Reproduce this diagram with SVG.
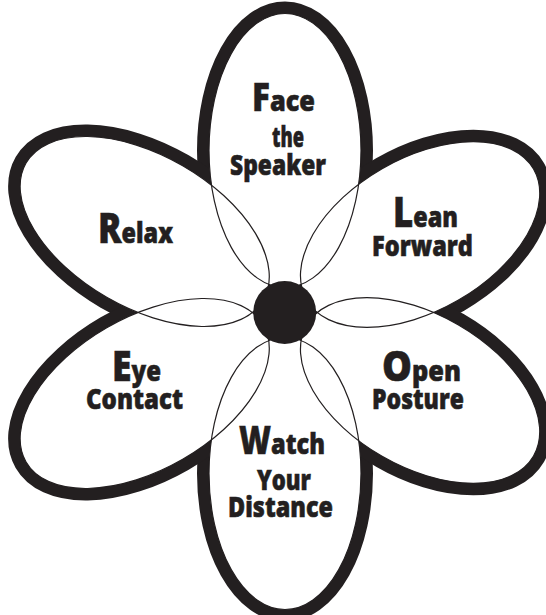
<svg xmlns="http://www.w3.org/2000/svg" xmlns:xlink="http://www.w3.org/1999/xlink" width="546" height="615" viewBox="0 0 546 615">
<style>
.thick{fill:none;stroke:#231f20;stroke-width:24}
.fillw{fill:#fff;stroke:none}
.thin{fill:none;stroke:#231f20;stroke-width:1.2}
.lbl{font-family:"Open Sans","Liberation Sans",sans-serif;font-weight:800;fill:#231f20;stroke:#231f20;stroke-width:0.6;font-size:29px}
.big{font-size:43px}
.mid{font-size:38px}
</style>
<defs>
<ellipse id="pTop" cx="285" cy="150.5" rx="76" ry="137"/>
<ellipse id="pBot" cx="285" cy="473.5" rx="76" ry="136"/>
<ellipse id="pUL" cx="144.7" cy="231.5" rx="137" ry="76" transform="rotate(30 144.7 231.5)"/>
<ellipse id="pLL" cx="144.7" cy="393.5" rx="137" ry="76" transform="rotate(-30 144.7 393.5)"/>
<ellipse id="pUR" cx="420.1" cy="234.5" rx="131" ry="76" transform="rotate(-30 420.1 234.5)"/>
<ellipse id="pLR" cx="420.1" cy="390.5" rx="131" ry="76" transform="rotate(30 420.1 390.5)"/>
</defs>
<rect width="546" height="615" fill="#fff"/>
<g id="outline">
<use xlink:href="#pTop" class="thick"/><use xlink:href="#pBot" class="thick"/>
<use xlink:href="#pUL" class="thick"/><use xlink:href="#pLL" class="thick"/>
<use xlink:href="#pUR" class="thick"/><use xlink:href="#pLR" class="thick"/>
</g>
<g id="interior">
<use xlink:href="#pTop" class="fillw"/><use xlink:href="#pBot" class="fillw"/>
<use xlink:href="#pUL" class="fillw"/><use xlink:href="#pLL" class="fillw"/>
<use xlink:href="#pUR" class="fillw"/><use xlink:href="#pLR" class="fillw"/>
</g>
<g id="petal-face-speaker">
<use xlink:href="#pTop" class="thin"/>
<text class="lbl"><tspan x="252" y="111" textLength="63" lengthAdjust="spacingAndGlyphs"><tspan class="mid">F</tspan>ace</tspan><tspan x="272" y="147" textLength="32" lengthAdjust="spacingAndGlyphs">the</tspan><tspan x="230" y="175" textLength="96" lengthAdjust="spacingAndGlyphs">Speaker</tspan></text>
</g>
<g id="petal-lean-forward">
<use xlink:href="#pUR" class="thin"/>
<text class="lbl"><tspan x="393" y="227" textLength="65" lengthAdjust="spacingAndGlyphs"><tspan class="big">L</tspan>ean</tspan><tspan x="372" y="256" textLength="101" lengthAdjust="spacingAndGlyphs">Forward</tspan></text>
</g>
<g id="petal-open-posture">
<use xlink:href="#pLR" class="thin"/>
<text class="lbl"><tspan x="382" y="381" textLength="79" lengthAdjust="spacingAndGlyphs"><tspan class="big">O</tspan>pen</tspan><tspan x="372" y="409" textLength="92" lengthAdjust="spacingAndGlyphs">Posture</tspan></text>
</g>
<g id="petal-watch-distance">
<use xlink:href="#pBot" class="thin"/>
<text class="lbl"><tspan x="239" y="454" textLength="86" lengthAdjust="spacingAndGlyphs"><tspan class="mid">W</tspan>atch</tspan><tspan x="257" y="490" textLength="54" lengthAdjust="spacingAndGlyphs">Your</tspan><tspan x="228" y="517" textLength="105" lengthAdjust="spacingAndGlyphs">Distance</tspan></text>
</g>
<g id="petal-eye-contact">
<use xlink:href="#pLL" class="thin"/>
<text class="lbl"><tspan x="112" y="381" textLength="49" lengthAdjust="spacingAndGlyphs"><tspan class="big">E</tspan>ye</tspan><tspan x="86" y="409" textLength="97" lengthAdjust="spacingAndGlyphs">Contact</tspan></text>
</g>
<g id="petal-relax">
<use xlink:href="#pUL" class="thin"/>
<text class="lbl" x="98" y="243" textLength="75" lengthAdjust="spacingAndGlyphs"><tspan class="big">R</tspan>elax</text>
</g>
<g id="center">
<circle cx="284.7" cy="312.5" r="31.5" fill="#231f20"/>
</g>
</svg>
